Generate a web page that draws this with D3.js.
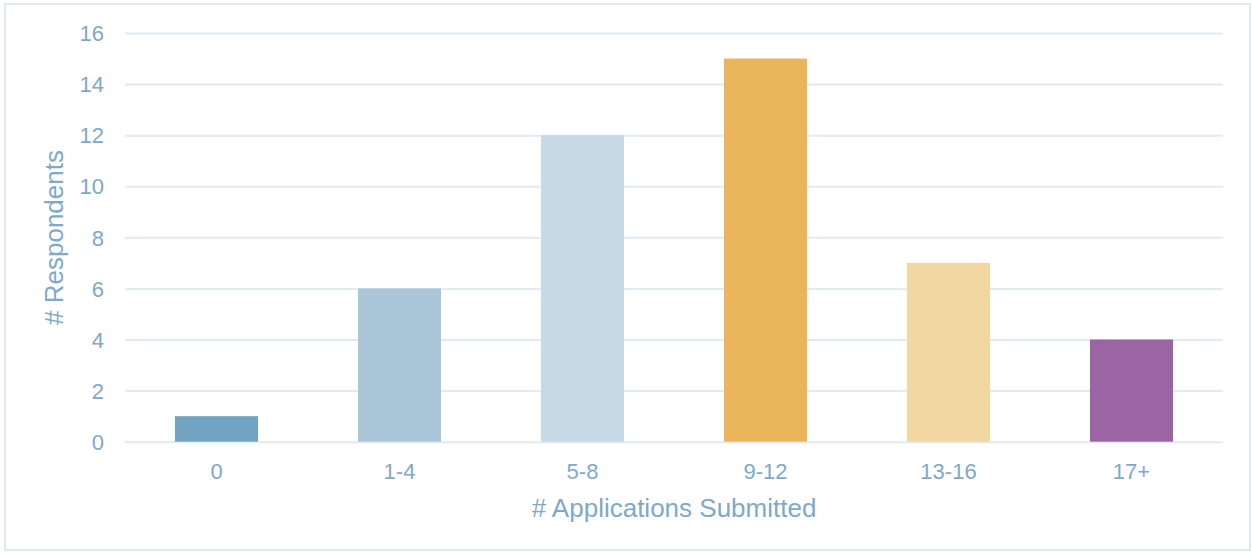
<!DOCTYPE html>
<html>
<head>
<meta charset="utf-8">
<script src="https://cdn.jsdelivr.net/npm/d3@7"></script>
<style>
  body { margin: 0; background: #fff; }
  text { font-family: "Liberation Sans", Arial, sans-serif; }
</style>
</head>
<body>
<div id="chart"></div>
<script>
// data
var categories = ["0", "1-4", "5-8", "9-12", "13-16", "17+"];
var respondents = [1, 6, 12, 15, 7, 4];
var barColors = ["#72a3c0", "#abc6d8", "#c7d9e5", "#ebb55b", "#f2d7a0", "#9b65a3"];
var yTicks = [0, 2, 4, 6, 8, 10, 12, 14, 16];

var width = 1252,
    height = 554;

var textColor = "#7ea9c7",
    gridColor = "#e2eaf2";

var svg = d3.select("#chart").append("svg")
    .attr("width", width)
    .attr("height", height);

// outer frame
svg.append("rect")
    .attr("x", 5)
    .attr("y", 4)
    .attr("width", 1245)
    .attr("height", 546)
    .attr("fill", "none")
    .attr("stroke", "#dfe9f2")
    .attr("stroke-width", 2);

var x = d3.scaleBand()
    .domain(categories)
    .range([125, 1223])
    .paddingInner(0.546)
    .paddingOuter(0.273);

var y = d3.scaleLinear()
    .domain([0, 16])
    .range([441.7, 33]);

// gridlines + y labels via axis
var yAxis = svg.append("g")
    .attr("transform", "translate(125,0)")
    .call(d3.axisLeft(y).tickValues(yTicks).tickSize(-1098).tickPadding(21));

yAxis.select(".domain").remove();
yAxis.selectAll(".tick line")
    .attr("stroke", gridColor)
    .attr("stroke-width", 2);
yAxis.selectAll(".tick text")
    .attr("fill", textColor)
    .style("font-size", "22px")
    .attr("dy", "0.35em");

// bars
svg.append("g").selectAll("rect")
    .data(respondents)
    .enter().append("rect")
    .attr("x", function(d, i) { return x(categories[i]); })
    .attr("y", function(d) { return y(d); })
    .attr("width", x.bandwidth())
    .attr("height", function(d) { return y(0) - y(d); })
    .attr("fill", function(d, i) { return barColors[i]; });

// x labels via axis
var xAxis = svg.append("g")
    .attr("transform", "translate(0,441.7)")
    .call(d3.axisBottom(x).tickSize(0).tickPadding(0));

xAxis.select(".domain").remove();
xAxis.selectAll(".tick text")
    .attr("fill", textColor)
    .style("font-size", "22px")
    .attr("y", 37)
    .attr("dy", 0);

// axis titles
svg.append("text")
    .attr("x", 674)
    .attr("y", 517)
    .attr("text-anchor", "middle")
    .attr("fill", textColor)
    .style("font-size", "26px")
    .text("# Applications Submitted");

svg.append("text")
    .attr("transform", "translate(63,237.5) rotate(-90)")
    .attr("text-anchor", "middle")
    .attr("fill", textColor)
    .style("font-size", "26px")
    .text("# Respondents");
</script>
</body>
</html>
